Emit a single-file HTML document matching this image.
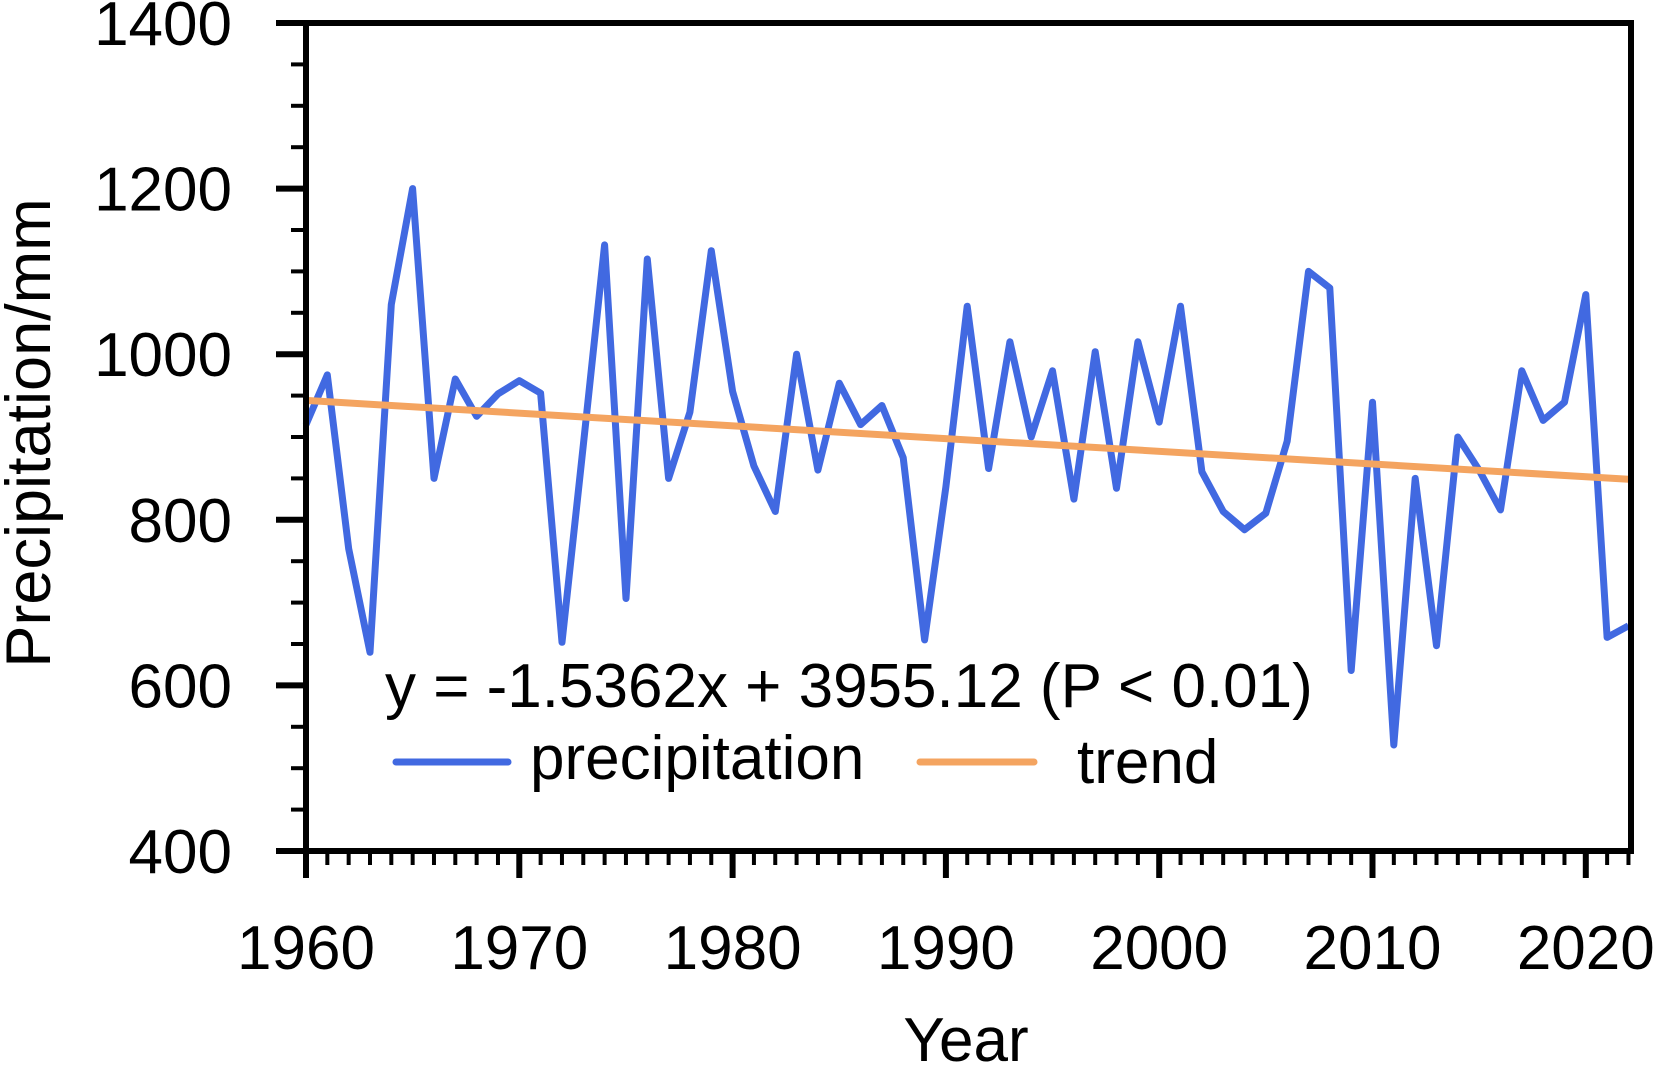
<!DOCTYPE html>
<html><head><meta charset="utf-8"><style>
html,body{margin:0;padding:0;background:#fff;}
svg{display:block;font-family:"Liberation Sans",Arial,sans-serif;}
</style></head><body>
<svg id="chart" width="1655" height="1066" viewBox="0 0 1655 1066" xmlns="http://www.w3.org/2000/svg">
<g id="ticks"></g>
<g id="series"></g>
<rect x="306" y="23" width="1325" height="828" fill="none" stroke="#000" stroke-width="6"/>
<text transform="translate(50,433) rotate(-90)" text-anchor="middle" font-size="63">Precipitation/mm</text>
<text x="966" y="1061" text-anchor="middle" font-size="62">Year</text>
<text x="385" y="707" font-size="62">y = -1.5362x + 3955.12 (P &lt; 0.01)</text>
<line x1="396" y1="762" x2="508" y2="762" stroke="#4169E1" stroke-width="7" stroke-linecap="round"/>
<text x="530" y="779" font-size="62">precipitation</text>
<line x1="920" y1="762" x2="1034" y2="762" stroke="#F4A460" stroke-width="7" stroke-linecap="round"/>
<text x="1077" y="783" font-size="62">trend</text>
</svg>
<script>
const years = [];
for (let y = 1960; y <= 2022; y++) years.push(y);
const precipitation = [915,975,765,640,1060,1200,850,970,925,952,968,953,652,890,1132,705,1115,850,930,1125,955,865,810,1000,860,965,915,938,875,655,840,1058,862,1015,900,980,825,1003,838,1015,918,1058,858,810,788,808,895,1100,1080,618,942,528,850,648,900,860,812,980,920,942,1072,658,672];
const trendSlope = -1.5362;
const trendIntercept = 3955.12;
const yTickLabels = [400,600,800,1000,1200,1400];
const xTickLabels = [1960,1970,1980,1990,2000,2010,2020];

const NS = "http://www.w3.org/2000/svg";
const X0 = 306, PXY = 21.33, Y400 = 851, PXV = 0.828;
function xs(yr){ return X0 + (yr - 1960) * PXY; }
function ys(v){ return Y400 - (v - 400) * PXV; }
function mk(tag, attrs, parent){ const e = document.createElementNS(NS, tag); for (const k in attrs) e.setAttribute(k, attrs[k]); parent.appendChild(e); return e; }

const ticks = document.getElementById('ticks');
for (let v = 400; v <= 1400; v += 50) {
  const major = v % 200 === 0;
  const t = mk('line', {x1: major ? 276 : 291, x2: 306, y1: ys(v), y2: ys(v), stroke: '#000', 'stroke-width': major ? 6 : 4}, ticks);
  
  
}
yTickLabels.forEach(v => {
  const t = mk('text', {x: 232, y: ys(v) + 22, 'text-anchor': 'end', 'font-size': 62}, ticks);
  t.textContent = v;
  
  
});
for (let yr = 1960; yr <= 2022; yr++) {
  const major = yr % 10 === 0;
  const t = mk('line', {x1: xs(yr), x2: xs(yr), y1: 851, y2: major ? 878 : 865, stroke: '#000', 'stroke-width': major ? 6 : 4}, ticks);
  
  
}
xTickLabels.forEach(v => {
  const t = mk('text', {x: xs(v), y: 969, 'text-anchor': 'middle', 'font-size': 62}, ticks);
  t.textContent = v;
  
  
});

const series = document.getElementById('series');
const pts = years.map((yr, i) => xs(yr).toFixed(1) + ',' + ys(precipitation[i]).toFixed(1)).join(' ');
const pl = mk('polyline', {points: pts, fill: 'none', stroke: '#4169E1', 'stroke-width': 7, 'stroke-linejoin': 'round'}, series);


const y1 = years[0], y2 = years[years.length - 1];
const tl = mk('line', {x1: xs(y1), y1: ys(trendSlope * y1 + trendIntercept), x2: xs(y2), y2: ys(trendSlope * y2 + trendIntercept), stroke: '#F4A460', 'stroke-width': 7}, series);


</script>
</body></html>
